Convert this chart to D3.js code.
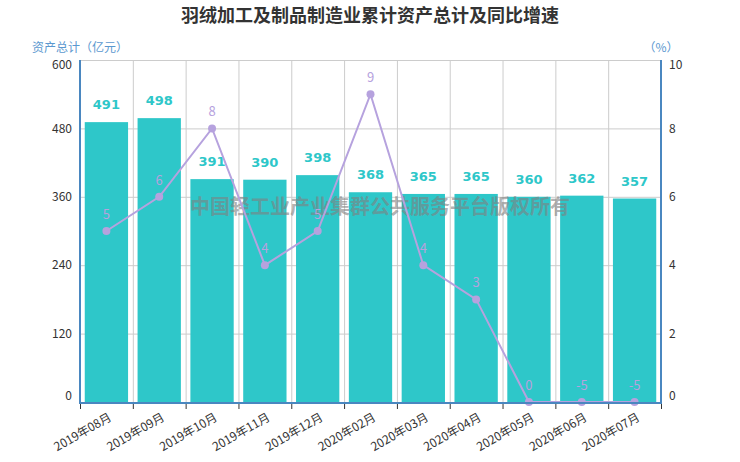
<!DOCTYPE html>
<html>
<head>
<meta charset="utf-8">
<script src="https://cdn.jsdelivr.net/npm/d3@7"></script>
<style>
  html, body { margin: 0; padding: 0; background: #fff; }
  svg { display: block; font-family: "Noto Sans CJK SC", "DejaVu Sans", sans-serif; }
</style>
</head>
<body>
<svg id="chart" width="740" height="462"></svg>
<script>
// ---- data ----
const months = ['2019年08月', '2019年09月', '2019年10月', '2019年11月', '2019年12月', '2020年02月',
    '2020年03月', '2020年04月', '2020年05月', '2020年06月', '2020年07月'];
const assets = [491, 498, 391, 390, 398, 368, 365, 365, 360, 362, 357];
const growth = [5, 6, 8, 4, 5, 9, 4, 3, 0, -5, -5];
const leftTicks = [0, 120, 240, 360, 480, 600];
const rightTicks = [0, 2, 4, 6, 8, 10];

const COLORS = {
    bar: '#2ec7c9',
    line: '#b6a2de',
    axis: '#4a87c0',
    axisName: '#5b98cf',
    grid: '#cccccc',
    text: '#333333',
};

const svg = d3.select('#chart');
const margin = { top: 60, right: 79, bottom: 60, left: 80 };
const width = 740, height = 462;
const plotW = width - margin.left - margin.right;
const plotH = 402 - margin.top;

const x = d3.scaleBand().domain(months).range([margin.left, margin.left + plotW]).paddingInner(0.18).paddingOuter(0.09);
const xGrid = d3.scaleBand().domain(months).range([margin.left, margin.left + plotW]);
const yL = d3.scaleLinear().domain([0, 600]).range([margin.top + plotH, margin.top]);
const yR = d3.scaleLinear().domain([0, 10]).range([margin.top + plotH, margin.top]).clamp(true);

// title
svg.append('text')
    .attr('x', width / 2).attr('y', 22)
    .attr('text-anchor', 'middle')
    .attr('font-size', 18).attr('font-weight', 'bold')
    .attr('fill', COLORS.text)
    .text('羽绒加工及制品制造业累计资产总计及同比增速');

// grid
const grid = svg.append('g');
grid.selectAll('.hg').data(leftTicks).enter().append('line')
    .attr('x1', margin.left).attr('x2', margin.left + plotW)
    .attr('y1', (d) => yL(d) + 0.5).attr('y2', (d) => yL(d) + 0.5)
    .attr('stroke', COLORS.grid);
grid.selectAll('.vg').data(months.slice(1)).enter().append('line')
    .attr('x1', (d) => xGrid(d) + 0.5).attr('x2', (d) => xGrid(d) + 0.5)
    .attr('y1', margin.top).attr('y2', margin.top + plotH)
    .attr('stroke', COLORS.grid);

// bars
svg.append('g').selectAll('rect').data(assets).enter().append('rect')
    .attr('x', (d, i) => x(months[i]))
    .attr('y', (d) => yL(d))
    .attr('width', x.bandwidth())
    .attr('height', (d) => yL(0) - yL(d))
    .attr('fill', COLORS.bar);

// watermark
svg.append('text')
    .attr('x', 380).attr('y', 214)
    .attr('text-anchor', 'middle')
    .attr('font-size', 20).attr('font-weight', 'bold')
    .attr('fill', 'rgba(128,128,128,0.62)')
    .text('中国轻工业产业集群公共服务平台版权所有');

// bar labels
svg.append('g').selectAll('text').data(assets).enter().append('text')
    .attr('x', (d, i) => x(months[i]) + x.bandwidth() / 2)
    .attr('y', (d) => yL(d) - 13)
    .attr('text-anchor', 'middle')
    .attr('font-family', 'Verdana, "DejaVu Sans", sans-serif')
    .attr('font-size', 13).attr('font-weight', 'bold')
    .attr('fill', COLORS.bar)
    .text((d) => d);

// line
const cx = (i) => xGrid(months[i]) + xGrid.bandwidth() / 2;
const line = d3.line().x((d, i) => cx(i)).y((d) => yR(d));
svg.append('path').datum(growth)
    .attr('d', line)
    .attr('fill', 'none')
    .attr('stroke', COLORS.line)
    .attr('stroke-width', 2);
svg.append('g').selectAll('circle').data(growth).enter().append('circle')
    .attr('cx', (d, i) => cx(i)).attr('cy', (d) => yR(d))
    .attr('r', 4).attr('fill', COLORS.line);
svg.append('g').selectAll('text').data(growth).enter().append('text')
    .attr('x', (d, i) => cx(i)).attr('y', (d) => yR(d) - 12)
    .attr('text-anchor', 'middle')
    .attr('font-size', 13)
    .attr('fill', COLORS.line)
    .text((d) => d);

// axes lines
const axes = svg.append('g').attr('stroke', COLORS.axis).attr('stroke-width', 2);
axes.append('line').attr('x1', margin.left).attr('x2', margin.left).attr('y1', margin.top).attr('y2', yL(0) + 2);
axes.append('line').attr('x1', margin.left + plotW).attr('x2', margin.left + plotW).attr('y1', margin.top).attr('y2', yL(0) + 2);
axes.append('line').attr('x1', margin.left).attr('x2', margin.left + plotW).attr('y1', yL(0) + 1).attr('y2', yL(0) + 1);

// x ticks
svg.append('g').selectAll('line').data(months.concat(['end'])).enter().append('line')
    .attr('x1', (d, i) => margin.left + i * xGrid.step() + 0.5)
    .attr('x2', (d, i) => margin.left + i * xGrid.step() + 0.5)
    .attr('y1', yL(0) + 2).attr('y2', yL(0) + 7)
    .attr('stroke', COLORS.text);

// x labels
svg.append('g').selectAll('text').data(months).enter().append('text')
    .attr('transform', (d) => `translate(${xGrid(d) + xGrid.bandwidth() / 2 + 4}, ${yL(0) + 14}) rotate(-30)`)
    .attr('text-anchor', 'end')
    .attr('dy', '0.35em')
    .attr('font-size', 12)
    .attr('fill', COLORS.text)
    .text((d) => d);

// y labels
const lastIdx = leftTicks.length - 1;
const nudge = (i) => (i === 0 ? -6 : i === lastIdx ? 5 : 0);
svg.append('g').selectAll('text').data(leftTicks).enter().append('text')
    .attr('x', margin.left - 8).attr('y', (d, i) => yL(d) + nudge(i))
    .attr('dy', '0.35em')
    .attr('text-anchor', 'end')
    .attr('font-size', 12)
    .attr('fill', COLORS.text)
    .text((d) => d);
svg.append('g').selectAll('text').data(rightTicks).enter().append('text')
    .attr('x', margin.left + plotW + 8).attr('y', (d, i) => yR(d) + nudge(i))
    .attr('dy', '0.35em')
    .attr('text-anchor', 'start')
    .attr('font-size', 12)
    .attr('fill', COLORS.text)
    .text((d) => d);

// axis names
svg.append('text')
    .attr('x', 80).attr('y', 52)
    .attr('text-anchor', 'middle')
    .attr('font-size', 12)
    .attr('fill', COLORS.axisName)
    .text('资产总计（亿元）');
svg.append('text')
    .attr('x', margin.left + plotW).attr('y', 52)
    .attr('text-anchor', 'middle')
    .attr('font-size', 12)
    .attr('fill', COLORS.axisName)
    .text('（%）');
</script>
</body>
</html>
